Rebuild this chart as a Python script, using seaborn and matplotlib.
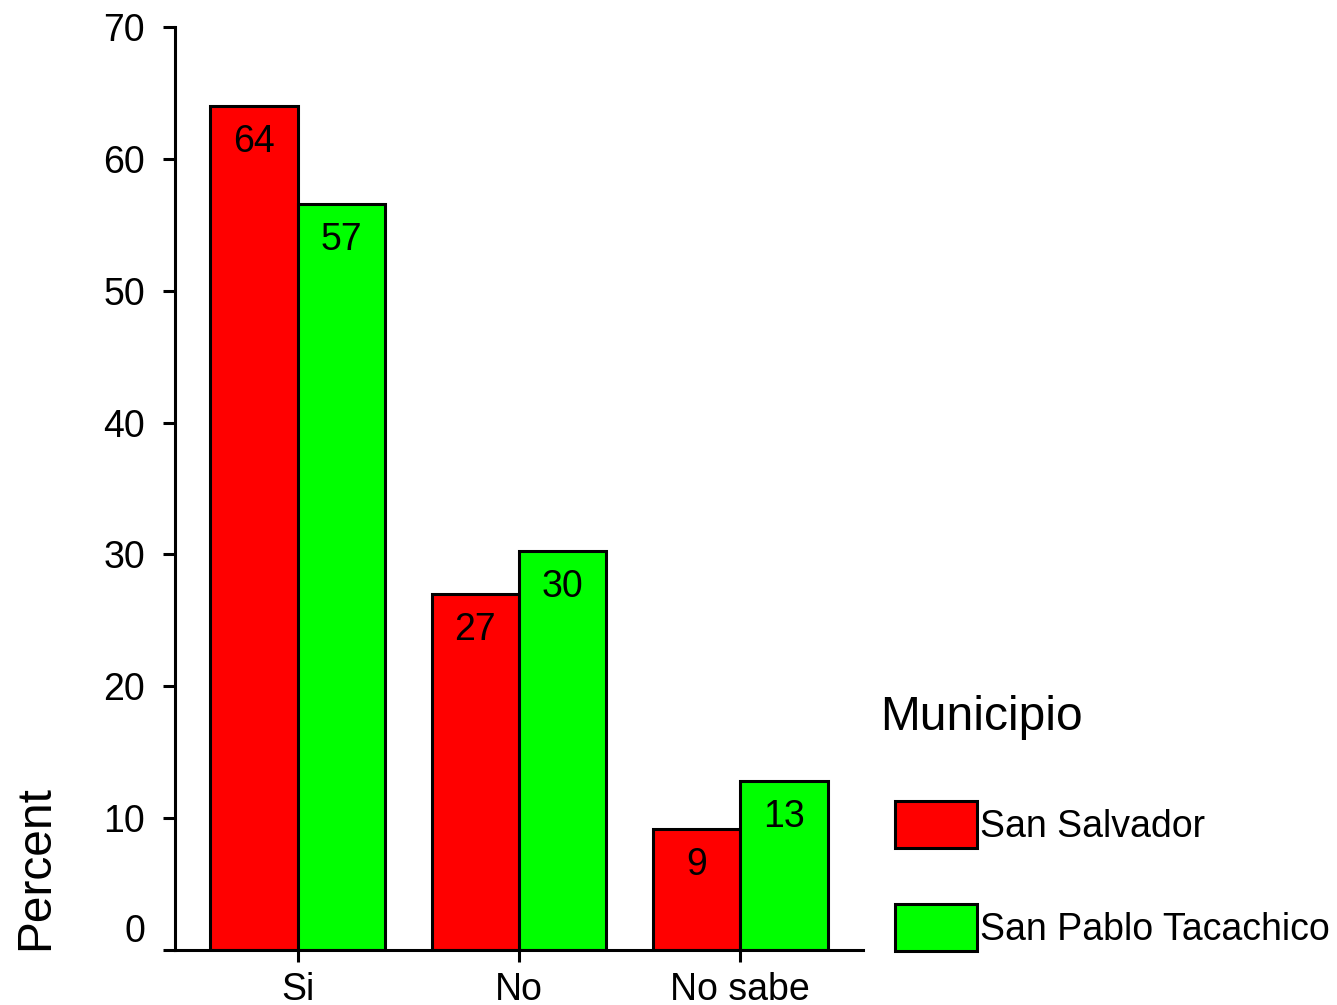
# Barras agrupadas: respuesta por municipio
import pandas as pd
import seaborn as sns
import matplotlib.pyplot as plt

# Datos
respuestas = ['Si', 'No', 'No sabe']
municipios = ['San Salvador', 'San Pablo Tacachico']
san_salvador = [64.0, 27.0, 9.2]
san_pablo = [56.6, 30.3, 12.8]
colores = ['#FF0000', '#00FF00']

df = pd.DataFrame({
    'respuesta': respuestas * 2,
    'municipio': [municipios[0]] * 3 + [municipios[1]] * 3,
    'porcentaje': san_salvador + san_pablo,
})

sns.set_style('ticks')
plt.rcParams['font.family'] = ['Liberation Sans', 'DejaVu Sans']
plt.rcParams['text.color'] = 'black'
plt.rcParams['axes.labelcolor'] = 'black'

fig = plt.figure(figsize=(13.37, 10.05), dpi=100)
ax = fig.add_axes([0.1309, 0.0547, 0.5146, 0.9184])

sns.barplot(data=df, x='respuesta', y='porcentaje', hue='municipio',
            order=respuestas, hue_order=municipios, palette=colores,
            saturation=1, width=0.79, edgecolor='black', linewidth=2.2, ax=ax)

ax.set_xlim(-0.555, 2.555)
ax.set_ylim(0, 70)
ax.set_yticks(range(0, 71, 10))
ax.set_xlabel('')
ax.set_ylabel('Percent', fontsize=34.5, loc='bottom')
ax.yaxis.set_label_coords(-0.17, 0)

# Rotulos dentro de las barras
for container in ax.containers:
    ax.bar_label(container, fmt='%.0f', label_type='edge', padding=-39, fontsize=27)

sns.despine(ax=ax)
for lado in ['left', 'bottom']:
    ax.spines[lado].set_linewidth(2.2)
    ax.spines[lado].set_color('black')
ax.tick_params(axis='both', length=8.6, width=2.2, color='black', labelcolor='black')
ax.tick_params(axis='y', labelsize=27, pad=13)
ax.tick_params(axis='x', labelsize=27, pad=7.5)
ax.get_yticklabels()[0].set_va('bottom')

# Leyenda fuera del area del grafico
handles, labels = ax.get_legend_handles_labels()
ax.legend(handles, labels, loc='center left',
          bbox_to_anchor=(895 / 1337, 1 - 876 / 1005), bbox_transform=fig.transFigure,
          frameon=False, fontsize=27, handlelength=2.19, handleheight=1.55,
          handletextpad=0.08, labelspacing=1.49, borderpad=0, borderaxespad=0)
fig.text(880 / 1337, 1 - 730 / 1005, 'Municipio', fontsize=34.5, ha='left', va='baseline')

fig.savefig('out.png', dpi=100)
